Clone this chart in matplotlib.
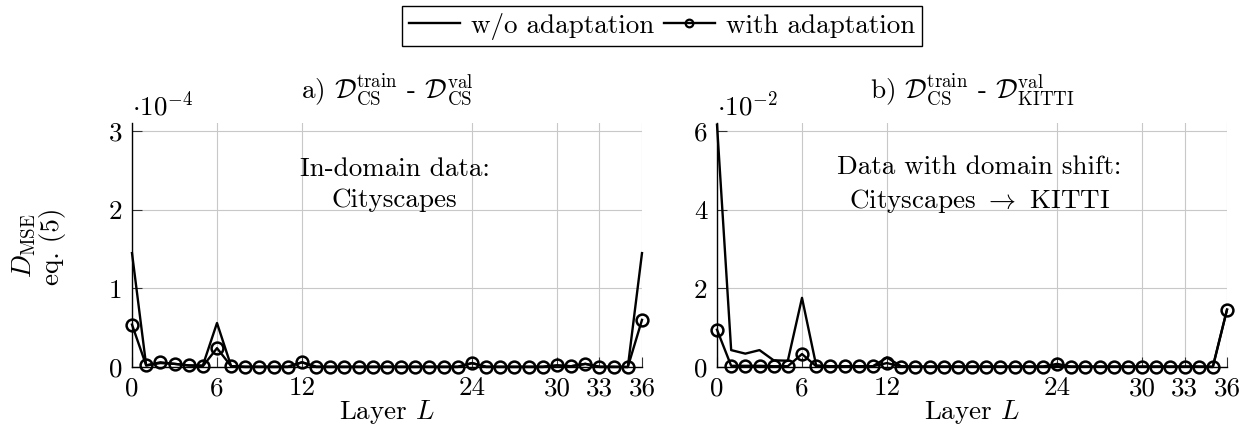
import matplotlib
matplotlib.use("Agg")
import matplotlib.pyplot as plt
from matplotlib.lines import Line2D

plt.rcParams['font.family'] = ['cmr10', 'DejaVu Serif']
plt.rcParams['mathtext.fontset'] = 'cm'
plt.rcParams['axes.formatter.use_mathtext'] = True

layers = list(range(37))
x_ticks = [0, 6, 12, 24, 30, 33, 36]

# a) in-domain, values x 1e-4
cs_without = [1.45, 0.02, 0.05, 0.04, 0.02, 0.02, 0.56, 0.01, 0.005, 0.005,
              0.005, 0.005, 0.06, 0.005, 0.005, 0.005, 0.005, 0.005, 0.005, 0.005,
              0.005, 0.005, 0.005, 0.005, 0.05, 0.005, 0.005, 0.005, 0.005, 0.005,
              0.02, 0.01, 0.04, 0.005, 0.005, 0.0, 1.45]
cs_with = [0.54, 0.02, 0.06, 0.04, 0.02, 0.01, 0.24, 0.01, 0.0, 0.0,
           0.0, 0.0, 0.06, 0.0, 0.0, 0.0, 0.0, 0.0, 0.0, 0.0,
           0.0, 0.0, 0.0, 0.0, 0.05, 0.0, 0.0, 0.0, 0.0, 0.0,
           0.02, 0.01, 0.04, 0.0, 0.0, 0.0, 0.60]

# b) domain shift, values x 1e-2
kitti_without = [6.17, 0.43, 0.34, 0.43, 0.17, 0.16, 1.76, 0.04, 0.02, 0.02,
                 0.02, 0.02, 0.24, 0.02, 0.01, 0.01, 0.01, 0.01, 0.01, 0.01,
                 0.01, 0.01, 0.01, 0.01, 0.02, 0.01, 0.01, 0.01, 0.01, 0.01,
                 0.01, 0.01, 0.01, 0.01, 0.01, 0.0, 1.46]
kitti_with = [0.95, 0.03, 0.03, 0.03, 0.02, 0.02, 0.33, 0.02, 0.02, 0.02,
              0.02, 0.02, 0.10, 0.01, 0.01, 0.01, 0.01, 0.01, 0.01, 0.01,
              0.01, 0.01, 0.01, 0.01, 0.08, 0.01, 0.01, 0.01, 0.01, 0.01,
              0.01, 0.01, 0.01, 0.01, 0.01, 0.01, 1.46]

fig = plt.figure(figsize=(12.45, 4.4), dpi=100)
W, H = 1245, 440
FS = 19.5

def make_axes(x0, without, with_, ymax, yticks, scale, title, note):
    ax = fig.add_axes([x0 / W, (H - 367) / H, 510 / W, 244.3 / H])
    ax.plot(layers, without, color='black', lw=1.7, zorder=3, clip_on=False)
    ax.plot(layers, with_, color='black', lw=1.7, marker='o', ms=8.5,
            mfc='none', mec='black', mew=1.8, zorder=4, clip_on=False)
    ax.set_xlim(0, 36)
    ax.set_ylim(0, ymax)
    ax.set_xticks(x_ticks)
    ax.set_yticks(yticks)
    ax.set_xticklabels([str(t) for t in x_ticks])
    ax.set_yticklabels([str(t) for t in yticks])
    ax.grid(True, color='#c8c8c8', lw=0.8)
    ax.set_axisbelow(True)
    for s in ['top', 'right']:
        ax.spines[s].set_visible(False)
    for s in ['left', 'bottom']:
        ax.spines[s].set_color('black')
        ax.spines[s].set_linewidth(1.0)
    ax.tick_params(direction='in', length=7, width=0.8, color='#333333',
                   labelsize=FS, pad=7)
    ax.text(0.0, 1.0315, scale, transform=ax.transAxes, ha='left',
            va='baseline', fontsize=FS)
    ax.text(0.5, 1.101, title, transform=ax.transAxes, ha='center',
            va='baseline', fontsize=FS)
    ax.text(0.515, 0.745, note, transform=ax.transAxes, ha='center',
            va='center', fontsize=FS, linespacing=1.4, multialignment='center')
    ax.text(0.5, -0.185, r"Layer $L$", transform=ax.transAxes, ha='center',
            va='center', fontsize=FS)
    return ax

make_axes(132, cs_without, cs_with, 3.11, [0, 1, 2, 3], r"$\cdot 10^{-4}$",
          r"a) $\mathcal{D}^{\mathrm{train}}_{\mathrm{CS}}$ - $\mathcal{D}^{\mathrm{val}}_{\mathrm{CS}}$",
          "In-domain data:\nCityscapes")
make_axes(717, kitti_without, kitti_with, 6.22, [0, 2, 4, 6], r"$\cdot 10^{-2}$",
          r"b) $\mathcal{D}^{\mathrm{train}}_{\mathrm{CS}}$ - $\mathcal{D}^{\mathrm{val}}_{\mathrm{KITTI}}$",
          "Data with domain shift:\n" + r"Cityscapes $\rightarrow$ KITTI")

fig.text(38 / W, 1 - 246 / H, r"$D_{\mathrm{MSE}}$" + "\neq. (5)", rotation=90,
         ha='center', va='center', fontsize=FS, multialignment='center',
         linespacing=1.1)

handles = [Line2D([], [], color='black', lw=1.7),
           Line2D([], [], color='black', lw=1.7, marker='o', ms=5.5,
                  mfc='none', mec='black', mew=1.6)]
fig.legend(handles, ['w/o adaptation', 'with adaptation'], loc='center',
           bbox_to_anchor=(662 / W, 1 - 26 / H), ncol=2, fontsize=FS,
           frameon=True, fancybox=False, edgecolor='black', framealpha=1,
           handlelength=1.9, handletextpad=0.4, columnspacing=0.35,
           borderpad=0.25)

fig.savefig("out.png", dpi=100)
